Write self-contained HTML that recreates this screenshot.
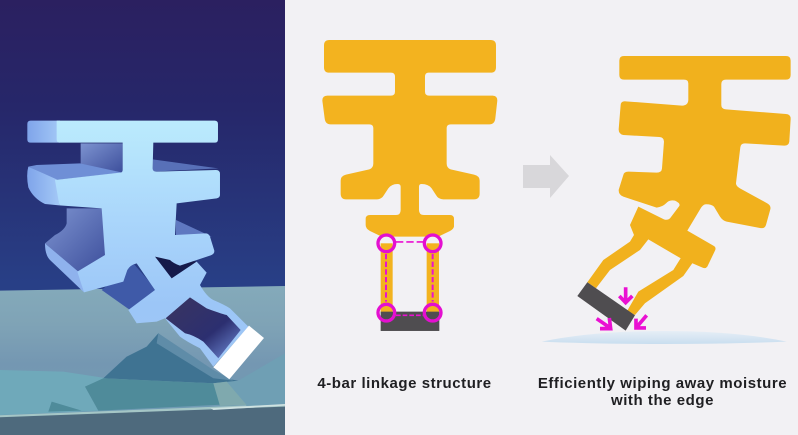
<!DOCTYPE html>
<html><head><meta charset="utf-8">
<style>
html,body{margin:0;padding:0;background:#f2f1f4}
svg{display:block}
text{font-family:"Liberation Sans",sans-serif;font-weight:700;fill:#1f1f22;font-size:15px;letter-spacing:.55px}
</style></head>
<body>
<svg width="798" height="435" viewBox="0 0 798 435" xmlns="http://www.w3.org/2000/svg">
<defs>
<linearGradient id="sky" x1="0" y1="0" x2="0" y2="1"><stop offset="0" stop-color="#2b2060"/><stop offset=".25" stop-color="#26276a"/><stop offset=".65" stop-color="#283f86"/><stop offset="1" stop-color="#283f86"/></linearGradient>
<linearGradient id="floor" x1="0" y1="0" x2="0" y2="1"><stop offset="0" stop-color="#84aaba"/><stop offset=".3" stop-color="#7fa3b6"/><stop offset=".6" stop-color="#7497b2"/><stop offset="1" stop-color="#6f9cb4"/></linearGradient>
<linearGradient id="side" x1="0" y1="0" x2="1" y2="0"><stop offset="0" stop-color="#7fa4ea"/><stop offset="1" stop-color="#a3c8f6"/></linearGradient>
<linearGradient id="face" x1="0" y1="0" x2="0" y2="1"><stop offset="0" stop-color="#bbebfd"/><stop offset=".4" stop-color="#aad6fb"/><stop offset=".75" stop-color="#9cc6f7"/><stop offset="1" stop-color="#9fc6f6"/></linearGradient>
<linearGradient id="inner" x1="0" y1="0" x2="1" y2="1"><stop offset="0" stop-color="#7d93d0"/><stop offset="1" stop-color="#3d4f9c"/></linearGradient>
<linearGradient id="hole" x1="0" y1="0" x2="1" y2="1"><stop offset="0" stop-color="#3a3560"/><stop offset=".6" stop-color="#2c2f70"/><stop offset="1" stop-color="#7290dc"/></linearGradient>
<linearGradient id="water" x1="0" y1="0" x2="0" y2="1"><stop offset="0" stop-color="#e6eef6"/><stop offset="1" stop-color="#c9deef"/></linearGradient>
</defs>
<rect width="798" height="435" fill="#f2f1f4"/>

<!-- Photo panel -->
<rect x="0" y="0" width="285" height="435" fill="url(#sky)"/>
<g transform="translate(0,100) scale(.3333)">
<polygon points="0,572 855,558 855,915 0,948" fill="url(#floor)"/>
<polygon points="0,948 855,915 855,1005 0,1005" fill="#4e6a7d"/>
<polygon points="0,946 855,912 855,920 0,952" fill="#a5c6c6"/>
<polygon points="0,810 190,815 320,835 255,860 295,932 0,945" fill="#6fa9ba"/>
<polygon points="855,760 855,914 740,918 640,850 715,842" fill="#6f9fb4"/>
<polygon points="310,835 380,770 440,740 475,700 640,830 715,842 640,850 310,835" fill="#3f7392"/>
<polygon points="255,860 310,835 640,850 705,912 295,932" fill="#4f8b9a"/>
<polygon points="640,850 680,845 740,915 660,918" fill="#7fa9ae"/>
<polygon points="475,700 640,810 700,842 640,835 470,730" fill="#5f8ca8"/>
<polygon points="145,935 155,905 245,932" fill="#4f8b9a"/>
<polygon points="632,925 855,912 855,917 640,930" fill="#cfe2e2"/>

<!-- Back faces -->
<polygon points="242,130 368,130 368,218 242,195" fill="url(#inner)"/>
<polygon points="458,178 655,205 458,215" fill="#5870b8"/>
<polygon points="528,360 635,410 528,405" fill="#5f78c0"/>
<polygon points="465,470 490,470 590,485 515,535" fill="#151a4a"/>
<polygon points="305,570 400,490 470,570 390,630" fill="#3f5aa8"/>

<!-- Side faces -->
<path d="M92,62H180V128H92Q82,128 82,118V72Q82,62 92,62Z" fill="url(#side)"/>
<path d="M85,200 110,195 240,190 368,218 170,240Z" fill="#6f8fd6"/>
<path d="M85,200 170,238 178,316 135,312Q100,295 85,262 78,225 85,200Z" fill="url(#side)"/>
<path d="M200,325H308L318,468 235,515 135,430 165,405Q195,390 200,370Z" fill="url(#inner)"/>
<path d="M135,430 235,515 252,577 150,480Q135,465 135,430Z" fill="#8fb2ed"/>

<!-- Front face -->
<path d="M170,62H644Q654,62 654,72V118Q654,128 644,128H460L458,205Q458,215 470,215L648,210Q660,210 660,222V285Q660,293 650,295L530,310 525,405 618,400Q626,400 630,410L643,452Q644,462 632,466L540,497Q520,490 510,480L465,470 515,535 590,485 620,518 600,555Q620,590 640,600 675,615 690,625L745,680 640,800 600,745Q560,725 540,710L495,655 470,665 410,670 385,630 465,570 410,490Q390,495 382,510L370,545 252,577 232,515 315,465 305,325 178,316 165,240 360,218Q368,218 368,210V128H180Q170,128 170,118Z" fill="url(#face)"/>
<path d="M497,655 570,592 620,625Q660,640 680,645L722,690 655,775 610,725Q580,705 555,700Z" fill="url(#hole)"/>
<polygon points="747,677 792,714 688,838 640,802" fill="#ffffff"/>
</g>

<!-- Left diagram -->
<g transform="translate(310,30) scale(.3333)">
<rect x="212" y="640" width="36" height="208" fill="#f3b31f"/>
<rect x="350" y="640" width="37" height="208" fill="#f3b31f"/>
<rect x="212" y="845" width="176" height="58" fill="#4f4d50"/>
<path d="M58,30H542Q558,30 558,46V112Q558,128 542,128H356Q345,128 345,140V185Q345,197 357,197H548Q562,197 562,212L556,265Q554,283 538,283H422Q410,283 410,295V400Q410,414 422,418L492,434Q509,438 509,452V490Q509,508 492,508H400Q385,508 378,495L365,475Q355,462 335,462Q327,462 327,470V540Q327,555 342,555H420Q432,555 432,567V590Q430,598 420,603L385,620H215L180,603Q167,596 167,585V567Q167,555 180,555H258Q272,555 272,540V470Q272,462 262,462Q245,462 235,475L222,495Q215,508 200,508H108Q92,508 92,490V452Q92,438 108,434L178,418Q190,414 190,400V295Q190,283 178,283H62Q46,283 44,265L37,212Q37,197 52,197H243Q255,197 255,185V140Q255,128 243,128H58Q42,128 42,112V46Q42,30 58,30Z" fill="#f3b31f"/>
<path d="M258,636H340" stroke="#ea10d2" stroke-width="5" stroke-dasharray="22 9" fill="none"/>
<path d="M228,672V815M368,672V815" stroke="#ea10d2" stroke-width="6" stroke-dasharray="16 7" fill="none"/>
<path d="M258,856H340" stroke="#ea10d2" stroke-width="5" stroke-dasharray="14 6" fill="none"/>
<g fill="none" stroke="#e40fd0" stroke-width="10">
<circle cx="229" cy="640" r="25"/><circle cx="368" cy="640" r="25"/>
<circle cx="229" cy="848" r="25"/><circle cx="368" cy="848" r="25"/>
</g>
</g>

<!-- Arrow -->
<polygon points="523,165 550,165 550,155 569,176 550,198 550,188 523,188" fill="#d8d7da"/>

<!-- Right diagram -->
<g transform="translate(510,40) scale(.3333)">
<path d="M95,905Q250,873 462,873 680,873 830,905 650,912 462,912 250,912 95,905Z" fill="url(#water)"/>
<path d="M342,48H828Q842,48 842,62V105Q842,119 828,119H648Q634,119 634,132V195Q634,207 648,208L828,222Q843,223 842,238L838,305Q836,318 822,317L705,310Q692,310 691,322L678,430Q678,438 690,445L772,490Q784,497 781,508L768,555Q764,567 750,564L650,545Q638,542 630,530L612,500Q604,492 585,493 578,495 572,505L532,572 610,617Q620,622 615,632L592,680Q586,688 575,682L547,670 520,708 405,790 375,825 352,812 385,755 490,690 512,655 415,598 390,630 300,690 258,745 232,727 280,660 360,605 372,585 360,555 385,500 462,538Q472,542 480,535L508,498Q512,490 495,482 478,478 468,490 458,500 440,503L340,470Q326,465 326,450L340,405Q342,395 355,395L440,398Q455,398 456,385L462,305Q462,292 448,291L340,285Q326,282 326,268L332,195Q333,183 347,184L515,197Q534,197 535,180V130Q535,119 522,119H342Q328,119 328,105V62Q328,48 342,48Z" fill="#f1b11d"/>
<polygon points="232,727 375,826 347,872 202,768" fill="#4f4d50"/>
<g fill="none" stroke="#ea10d2" stroke-width="11">
<path d="M347,742V788M328,768 347,788 367,768"/>
<path d="M410,826 378,864M378,836V864H408"/>
<path d="M260,836 301,864M298,834 302,866 270,866"/>
</g>
</g>

<text x="404.5" y="388" text-anchor="middle">4-bar linkage structure</text>
<text x="662.5" y="388" text-anchor="middle">Efficiently wiping away moisture</text>
<text x="662.5" y="405" text-anchor="middle">with the edge</text>
</svg>
</body></html>
